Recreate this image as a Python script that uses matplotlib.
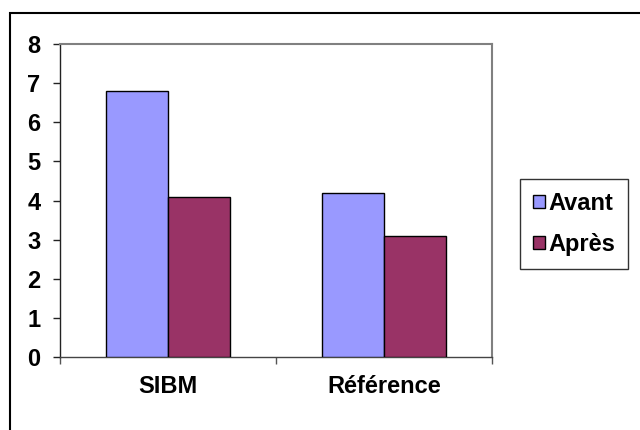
import matplotlib
matplotlib.use("Agg")
import matplotlib.pyplot as plt
from matplotlib.patches import Rectangle
import numpy as np

categories = ["SIBM", "Référence"]
series_names = ["Avant", "Après"]
avant = [6.8, 4.2]
apres = [4.1, 3.1]
y_ticks = [0, 1, 2, 3, 4, 5, 6, 7, 8]

plt.rcParams["font.family"] = ["Liberation Sans", "DejaVu Sans"]
plt.rcParams["font.weight"] = "bold"

FS = 17
W, H = 640, 430
fig = plt.figure(figsize=(W / 100, H / 100), dpi=100)
ax = fig.add_axes([60 / W, 1 - 357 / H, (492 - 60) / W, (357 - 44) / H])

x = np.arange(len(categories))
width = 0.287
colors = ["#9999FF", "#993366"]
ax.bar(x - width / 2, avant, width, color=colors[0], edgecolor="black", linewidth=1, label=series_names[0], zorder=3)
ax.bar(x + width / 2, apres, width, color=colors[1], edgecolor="black", linewidth=1, label=series_names[1], zorder=3)

ax.set_xlim(-0.5, len(categories) - 0.5)
ax.set_ylim(0, 8)
ax.set_yticks(y_ticks)
ax.set_yticklabels([str(t) for t in y_ticks], fontsize=FS, fontweight="bold")

# Category boundaries as ticks, names centred under each group
ax.set_xticks(np.arange(-0.5, len(categories), 1.0))
ax.set_xticklabels([])
ax.set_xticks(x, minor=True)
ax.set_xticklabels(categories, minor=True, fontsize=FS, fontweight="bold")
ax.tick_params(axis="x", which="major", direction="out", length=5, width=1, color="#555555")
ax.tick_params(axis="x", which="minor", length=0, pad=13)
ax.tick_params(axis="y", direction="out", length=5, width=1, color="#222222", pad=9)

for side in ("top", "right"):
    ax.spines[side].set_color("#808080")
    ax.spines[side].set_linewidth(1.5)
ax.spines["left"].set_color("#222222")
ax.spines["bottom"].set_color("#444444")
for side in ("left", "bottom"):
    ax.spines[side].set_linewidth(1)

leg = fig.legend(loc="upper left", bbox_to_anchor=(520 / W, 1 - 179 / H),
                 fontsize=FS, frameon=True, fancybox=False, edgecolor="black",
                 handlelength=0.5, handleheight=0.5, handletextpad=0.15,
                 labelspacing=0.75, borderpad=0.55, borderaxespad=0)
leg.get_frame().set_linewidth(1)
for t in leg.get_texts():
    t.set_fontweight("bold")

# Outer chart frame
fig.patches.append(Rectangle((10 / W, -0.1), 1.0, 1 - 13 / H + 0.1,
                             transform=fig.transFigure, fill=False,
                             edgecolor="black", linewidth=1.5))

fig.savefig("out.png", dpi=100)
